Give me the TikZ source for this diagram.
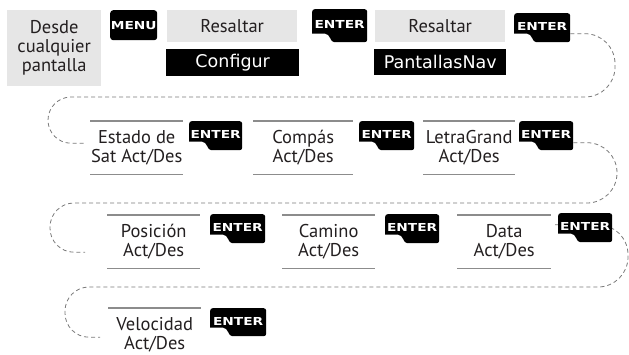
\documentclass[tikz,border=0pt]{standalone}
\usepackage{fontspec}
\setmainfont{PT Sans}
\newfontfamily\keyfont{DejaVu Sans}[FakeStretch=1.25]
\newfontfamily\lcdfont{DejaVu Sans}
\usetikzlibrary{backgrounds}
\definecolor{txt}{HTML}{231F20}
\definecolor{boxgray}{HTML}{E6E6E6}
\definecolor{rulegray}{HTML}{8C8C8C}
\definecolor{dashgray}{HTML}{7A7A7A}
\begin{document}
\begin{tikzpicture}[x=1pt,y=-1pt,
  lbl/.style={font=\fontsize{18.5}{19}\selectfont, text=txt, align=center, inner sep=0pt},
  greybox/.style={lbl, fill=boxgray, anchor=north west},
  lcd/.style={fill=black, text=white, font=\lcdfont\fontsize{17.5}{20}\selectfont, anchor=north west, inner sep=0pt},
  optbox/.style={lbl, anchor=north west, minimum height=53pt},
  rulel/.style={draw=rulegray, line width=1.2pt},
  conn/.style={draw=dashgray, dash pattern=on 4pt off 3pt, line width=0.8pt},
  keybase/.style={anchor=north west, inner sep=0pt, text=white, font=\keyfont\bfseries\fontsize{11}{12}\selectfont},
  enterkey/.style={keybase, minimum width=55pt, minimum height=29pt,
    path picture={\fill[black] ([yshift=8.5pt]path picture bounding box.south west) [rounded corners=2.5pt] -- (path picture bounding box.north west) -- (path picture bounding box.north east) -- (path picture bounding box.south east) [sharp corners] -- ([xshift=22pt]path picture bounding box.south west) .. controls ([xshift=18pt]path picture bounding box.south west) and ([xshift=18pt,yshift=8.5pt]path picture bounding box.south west) .. ([xshift=13pt,yshift=8.5pt]path picture bounding box.south west) -- cycle;}},
  menukey/.style={keybase, fill=black, rounded corners=3pt, minimum width=47pt, minimum height=30pt}
]
\useasboundingbox (0,0) rectangle (629,354);

% row 1
\node[greybox, minimum width=94pt, minimum height=76pt] (desde) at (7,10) {Desde\\cualquier\\pantalla};
\node[menukey] (menu) at (110,10) {MENU};
\node[greybox, minimum width=130pt, minimum height=32pt] (res1) at (167,10) {Resaltar};
\node[lcd, minimum width=133pt, minimum height=27pt] (conf) at (166,49) {Configur};
\node[enterkey, minimum height=33pt] (k2) at (312,9) {\raisebox{2pt}{ENTER}};
\node[greybox, minimum width=130pt, minimum height=32pt] (res2) at (375,10) {Resaltar};
\node[lcd, minimum width=132pt, minimum height=26pt] (pan) at (374,49) {PantallasNav};
\node[enterkey, minimum width=56pt] (k3) at (514,13) {\raisebox{2pt}{ENTER}};

% row 2
\node[optbox, minimum width=93pt] (estado) at (90,121) {Estado de\\Sat Act/Des};
\node[enterkey, minimum width=53pt] (k4) at (189,121) {\raisebox{2pt}{ENTER}};
\node[optbox, minimum width=100pt] (compas) at (253,121) {Compás\\Act/Des};
\node[enterkey] (k5) at (359,121) {\raisebox{2pt}{ENTER}};
\node[optbox, minimum width=92pt] (letra) at (423,121) {LetraGrand\\Act/Des};
\node[enterkey, minimum width=54pt] (k6) at (519,121) {\raisebox{2pt}{ENTER}};

% row 3
\node[optbox, minimum width=93pt] (posicion) at (107,215) {Posición\\Act/Des};
\node[enterkey] (k7) at (210,214) {\raisebox{2pt}{ENTER}};
\node[optbox, minimum width=93pt] (camino) at (282,215) {Camino\\Act/Des};
\node[enterkey, minimum width=54pt] (k8) at (385,214) {\raisebox{2pt}{ENTER}};
\node[optbox, minimum width=94pt] (data) at (457,215) {Data\\Act/Des};
\node[enterkey, minimum width=54pt] (k9) at (558,213) {\raisebox{2pt}{ENTER}};

% row 4
\node[optbox, minimum width=93pt] (velocidad) at (108,308) {Velocidad\\Act/Des};
\node[enterkey, minimum width=56pt, minimum height=28pt] (k10) at (210,308) {\raisebox{2pt}{ENTER}};

% rules
\foreach \n in {estado,compas,letra,posicion,camino,data}{
  \draw[rulel] (\n.north west) -- (\n.north east);
  \draw[rulel] (\n.south west) -- (\n.south east);
}
\draw[rulel] (velocidad.north west) -- (velocidad.north east);

% connectors
\coordinate (r1) at (615,97);
\coordinate (l1) at (48,97);
\coordinate (r2) at (617,203);
\coordinate (l2) at (50,203);
\coordinate (r3) at (628,287);
\coordinate (l3) at (65,287);
\begin{scope}[on background layer]
\draw[conn] ([yshift=-6pt]k3.east) [rounded corners=30pt] -| (r1) [rounded corners=23pt] -- (l1) |- ([xshift=-5pt,yshift=4.5pt]estado.west);
\draw[conn] ([yshift=-7pt]k6.east) [rounded corners=30pt] -| (r2) [rounded corners=24pt] -- (l2) |- ([xshift=-22pt,yshift=-10.5pt]posicion.west);
\draw[conn] ([xshift=-3pt,yshift=3pt]k9.west) [rounded corners=30pt] -| (r3) [rounded corners=24pt] -- (l3) |- ([xshift=-8pt,yshift=-2.5pt]velocidad.west);
\end{scope}
\end{tikzpicture}
\end{document}
